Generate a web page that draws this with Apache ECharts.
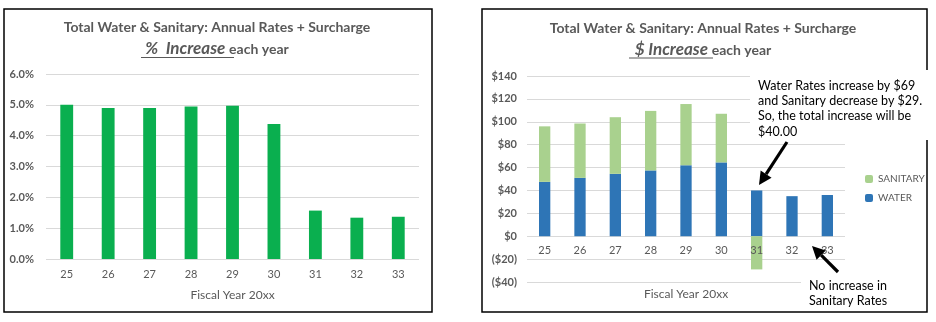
<!DOCTYPE html>
<html><head><meta charset="utf-8">
<script src="https://cdn.jsdelivr.net/npm/echarts@6/dist/echarts.min.js"></script>
<style>html,body{margin:0;padding:0;background:#fff}#c{width:936px;height:322px}</style>
</head><body><div id="c"></div>
<script>
const categories = ['25','26','27','28','29','30','31','32','33'];
const pctIncrease = [5.0, 4.9, 4.9, 4.95, 4.97, 4.38, 1.57, 1.34, 1.37];
const water = [47.5, 51, 54.5, 57.5, 62, 64.5, 40, 35, 36];
const sanitary = [48.5, 47.5, 49.5, 52, 53.5, 42.5, -29, 0, 0];
const pctTicks = {min: 0, max: 6, interval: 1};
const dollarTicks = {min: -40, max: 140, interval: 20};

const FONT = 'Lato, "Open Sans", sans-serif';
const GREY = '#595959';
const chart = echarts.init(document.getElementById('c'));

function arrow(x1, y1, x2, y2, w) {
  const dx = x2 - x1, dy = y2 - y1, L = Math.hypot(dx, dy);
  const ux = dx / L, uy = dy / L, hl = 13, hw = 6.5;
  const bx = x2 - ux * hl, by = y2 - uy * hl;
  return [
    {type: 'line', z: 20, shape: {x1: x1, y1: y1, x2: bx, y2: by}, style: {stroke: '#000', lineWidth: w}},
    {type: 'polygon', z: 20, shape: {points: [[x2, y2], [bx - uy * hw, by + ux * hw], [bx + uy * hw, by - ux * hw]]}, style: {fill: '#000'}}
  ];
}

const titleRich = {
  a: {fontFamily: FONT, fontSize: 17, fontWeight: 'bold', fontStyle: 'italic', fill: GREY},
  b: {fontFamily: FONT, fontSize: 14, fontWeight: 'bold', fill: GREY}
};

const option = {
  animation: false,
  textStyle: {fontFamily: FONT},
  grid: [
    {left: 46, top: 74, width: 373, height: 185, outerBoundsMode: 'none', containLabel: false},
    {left: 527, top: 76, width: 318, height: 206, outerBoundsMode: 'none', containLabel: false}
  ],
  legend: {
    orient: 'vertical', left: 860, top: 169, itemWidth: 8, itemHeight: 8, itemGap: 9,
    data: ['SANITARY', 'WATER'],
    textStyle: {color: GREY, fontSize: 10, fontFamily: FONT}
  },
  xAxis: [
    {type: 'category', gridIndex: 0, data: categories,
     axisLine: {show: false}, axisTick: {show: false},
     axisLabel: {color: GREY, fontSize: 11, margin: 10},
     name: 'Fiscal Year 20xx', nameLocation: 'middle', nameGap: 30,
     nameTextStyle: {color: GREY, fontSize: 12}},
    {type: 'category', gridIndex: 1, data: categories, offset: -46, z: 6,
     axisLine: {show: false, onZero: false}, axisTick: {show: false},
     axisLabel: {color: GREY, fontSize: 11, margin: 9},
     name: 'Fiscal Year 20xx', nameLocation: 'middle', nameGap: 52,
     nameTextStyle: {color: GREY, fontSize: 12}}
  ],
  yAxis: [
    {type: 'value', gridIndex: 0, min: pctTicks.min, max: pctTicks.max, interval: pctTicks.interval,
     axisLabel: {color: GREY, fontSize: 11, fontWeight: 'bold', margin: 12, formatter: v => v.toFixed(1) + '%'},
     splitLine: {lineStyle: {color: '#D9D9D9', width: 1}}},
    {type: 'value', gridIndex: 1, min: dollarTicks.min, max: dollarTicks.max, interval: dollarTicks.interval,
     axisLabel: {color: GREY, fontSize: 11, fontWeight: 'bold', margin: 10,
       formatter: v => v < 0 ? '($' + (-v) + ')' : '$' + v},
     splitLine: {lineStyle: {color: '#D9D9D9', width: 1}}}
  ],
  series: [
    {type: 'bar', name: 'PCT', xAxisIndex: 0, yAxisIndex: 0, data: pctIncrease, barWidth: '31%',
     itemStyle: {color: '#0AAF4F'}},
    {type: 'bar', name: 'WATER', xAxisIndex: 1, yAxisIndex: 1, stack: 'd', data: water, barWidth: '32%',
     itemStyle: {color: '#2E75B6'}},
    {type: 'bar', name: 'SANITARY', xAxisIndex: 1, yAxisIndex: 1, stack: 'd', data: sanitary, barWidth: '32%',
     itemStyle: {color: '#A9D18E'}}
  ],
  graphic: [
    {type: 'rect', z: 5, shape: {x: 4, y: 9, width: 428, height: 303}, style: {fill: 'none', stroke: '#000', lineWidth: 1.5}},
    {type: 'rect', z: 5, shape: {x: 482, y: 9, width: 445, height: 303}, style: {fill: 'none', stroke: '#000', lineWidth: 1.5}},
    {type: 'text', z: 10, x: 217, y: 27, style: {text: 'Total Water & Sanitary: Annual Rates + Surcharge', fontFamily: FONT, fontSize: 14, fontWeight: 'bold', fill: GREY, align: 'center', verticalAlign: 'middle'}},
    {type: 'text', z: 10, x: 217, y: 49, style: {text: '{a|%  Increase }{b|each year}', rich: titleRich, align: 'center', verticalAlign: 'middle'}},
    {type: 'line', z: 10, shape: {x1: 141, y1: 57.5, x2: 234, y2: 57.5}, style: {stroke: GREY, lineWidth: 1}},
    {type: 'text', z: 10, x: 703, y: 28, style: {text: 'Total Water & Sanitary: Annual Rates + Surcharge', fontFamily: FONT, fontSize: 14, fontWeight: 'bold', fill: GREY, align: 'center', verticalAlign: 'middle'}},
    {type: 'text', z: 10, x: 703, y: 50, style: {text: '{a|$ Increase }{b|each year}', rich: titleRich, align: 'center', verticalAlign: 'middle'}},
    {type: 'line', z: 10, shape: {x1: 629, y1: 58, x2: 713, y2: 58}, style: {stroke: GREY, lineWidth: 1}},
    {type: 'rect', z: 8, shape: {x: 750, y: 70, width: 180, height: 70}, style: {fill: '#fff'}},
    {type: 'text', z: 10, x: 758, y: 78, style: {text: 'Water Rates increase by $69\nand Sanitary decrease by $29.\nSo, the total increase will be\n$40.00', fontFamily: FONT, fontSize: 12.5, lineHeight: 15.3, fill: '#000', align: 'left', verticalAlign: 'top'}},
    {type: 'rect', z: 8, shape: {x: 801, y: 274, width: 124, height: 37}, style: {fill: '#fff'}},
    {type: 'text', z: 10, x: 809, y: 278, style: {text: 'No increase in\nSanitary Rates', fontFamily: FONT, fontSize: 12.5, lineHeight: 15, fill: '#000', align: 'left', verticalAlign: 'top'}}
  ].concat(arrow(787, 142, 759, 185, 3.2)).concat(arrow(838, 272, 812, 246, 3.2))
};
chart.setOption(option);
</script></body></html>
